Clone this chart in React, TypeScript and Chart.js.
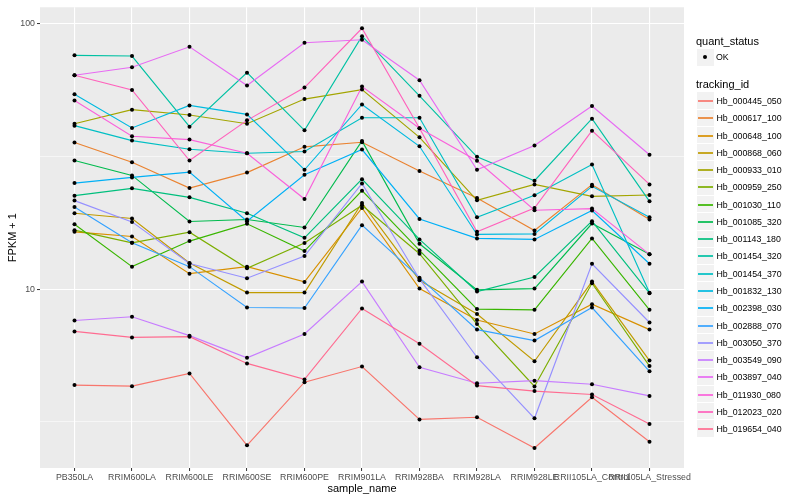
import React, { useEffect, useRef } from "react";
import { Chart, registerables } from "chart.js";

Chart.register(...registerables);

const sampleNames = [
  "PB350LA", "RRIM600LA", "RRIM600LE", "RRIM600SE", "RRIM600PE", "RRIM901LA",
  "RRIM928BA", "RRIM928LA", "RRIM928LE", "RRII105LA_Control", "RRII105LA_Stressed",
];

const trackingIds = [
  "Hb_000445_050", "Hb_000617_100", "Hb_000648_100", "Hb_000868_060", "Hb_000933_010",
  "Hb_000959_250", "Hb_001030_110", "Hb_001085_320", "Hb_001143_180", "Hb_001454_320",
  "Hb_001454_370", "Hb_001832_130", "Hb_002398_030", "Hb_002888_070", "Hb_003050_370",
  "Hb_003549_090", "Hb_003897_040", "Hb_011930_080", "Hb_012023_020", "Hb_019654_040",
];

const trackColors = [
  "#F8766D", "#EA8331", "#D89000", "#C09B00", "#A3A500", "#7CAE00", "#39B600", "#00BB4E",
  "#00BF7D", "#00C1A3", "#00BFC4", "#00BAE0", "#00B0F6", "#35A2FF", "#9590FF", "#C77CFF",
  "#E76BF3", "#FA62DB", "#FF62BC", "#FF6C91",
];

// FPKM + 1 per sample, one array per tracking_id
const hb000445_050 = [4.35, 4.31, 4.81, 2.58, 4.46, 5.11, 3.23, 3.29, 2.52, 3.91, 2.66];
const hb000617_100 = [35.7, 30.1, 24.05, 27.5, 34.4, 35.8, 27.9, 22.06, 16.65, 24.77, 18.31];
const hb000648_100 = [16.45, 15.8, 11.44, 12.16, 10.65, 20.23, 10.05, 7.65, 6.78, 8.78, 7.04];
const hb000868_060 = [19.33, 18.46, 12.55, 9.71, 9.71, 21.13, 10.81, 8.06, 5.35, 10.68, 5.38];
const hb000933_010 = [42.05, 47.5, 45.34, 42.05, 52.06, 56.55, 37.36, 21.63, 24.83, 22.39, 22.64];
const hb000959_250 = [16.69, 14.95, 16.4, 11.99, 14.92, 20.71, 13.6, 7.39, 4.3, 10.53, 5.13];
const hb001030_110 = [17.58, 12.16, 15.18, 17.63, 13.92, 23.51, 14.0, 8.41, 8.36, 15.54, 8.36];
const hb001085_320 = [30.55, 26.84, 17.99, 18.31, 17.08, 36.2, 14.83, 9.94, 10.05, 17.68, 13.53];
const hb001143_180 = [22.52, 23.99, 22.19, 19.33, 15.62, 25.99, 15.4, 9.8, 11.12, 18.04, 9.66];
const hb001454_320 = [76.1, 75.65, 40.98, 65.5, 39.7, 89.9, 53.56, 31.54, 25.63, 43.9, 21.44];
const hb001454_370 = [41.34, 36.31, 33.69, 32.54, 33.02, 44.29, 44.29, 18.67, 22.58, 29.51, 9.7];
const hb001832_130 = [54.35, 40.53, 49.26, 45.58, 28.19, 49.69, 34.56, 16.08, 16.16, 24.41, 18.67];
const hb002398_030 = [25.11, 26.38, 27.62, 18.04, 27.01, 33.6, 18.4, 15.54, 15.4, 19.79, 12.47];
const hb002888_070 = [20.4, 14.95, 12.16, 8.53, 8.49, 17.43, 11.05, 7.04, 6.4, 8.53, 4.9];
const hb003050_370 = [21.57, 17.93, 12.5, 11.0, 13.33, 25.04, 10.93, 5.54, 3.26, 12.47, 7.49];
const hb003549_090 = [7.62, 7.87, 6.68, 5.51, 6.78, 10.68, 5.08, 4.42, 4.52, 4.38, 3.96];
const hb003897_040 = [64.05, 68.64, 81.98, 58.54, 84.87, 87.1, 61.34, 28.19, 34.77, 49.0, 32.1];
const hb011930_080 = [51.43, 37.69, 36.63, 32.54, 21.87, 58.03, 40.39, 30.47, 19.84, 20.13, 13.53];
const hb012023_020 = [64.05, 56.39, 30.55, 43.28, 57.54, 96.3, 40.39, 16.45, 20.23, 39.59, 24.83];
const hb019654_040 = [6.93, 6.58, 6.62, 5.25, 4.57, 8.46, 6.23, 4.33, 4.13, 4.01, 3.1];

const seriesValues = [
  hb000445_050, hb000617_100, hb000648_100, hb000868_060, hb000933_010,
  hb000959_250, hb001030_110, hb001085_320, hb001143_180, hb001454_320,
  hb001454_370, hb001832_130, hb002398_030, hb002888_070, hb003050_370,
  hb003549_090, hb003897_040, hb011930_080, hb012023_020, hb019654_040,
];

const yMajorTicks = [10, 100];
const yMinorTicks = [3.1623, 31.623];
const quantStatus = ["OK"];

const FONT = "'Liberation Sans', Arial, Helvetica, sans-serif";

const panelBackground = {
  id: "panelBackground",
  beforeDraw(chart: any) {
    const { ctx, chartArea } = chart;
    ctx.save();
    ctx.fillStyle = "#EBEBEB";
    ctx.fillRect(chartArea.left, chartArea.top, chartArea.right - chartArea.left, chartArea.bottom - chartArea.top);
    ctx.restore();
  },
};

export default function App() {
  const canvasRef = useRef<HTMLCanvasElement | null>(null);

  useEffect(() => {
    if (!canvasRef.current) return;
    const lineDatasets = trackingIds.map((id, k) => ({
      label: id,
      data: seriesValues[k].map((v, i) => ({ x: i, y: v })),
      borderColor: trackColors[k],
      backgroundColor: trackColors[k],
      borderWidth: 1.15,
      pointRadius: 0,
      pointHoverRadius: 0,
      tension: 0,
      fill: false,
      order: trackingIds.length - k,
    }));
    const pointDataset = {
      label: quantStatus[0],
      data: seriesValues.flatMap((vals) => vals.map((v, i) => ({ x: i, y: v }))),
      showLine: false,
      pointRadius: 2,
      pointHoverRadius: 2,
      pointBackgroundColor: "#000000",
      pointBorderColor: "#000000",
      pointBorderWidth: 0,
      order: -1,
    };
    const isMajor = (v: number) => yMajorTicks.includes(v);
    const chart = new Chart(canvasRef.current, {
      type: "line",
      data: { datasets: [...lineDatasets, pointDataset] as any },
      plugins: [panelBackground],
      options: {
        animation: false,
        responsive: false,
        events: [],
        layout: { padding: { top: 5, right: 116, left: 0, bottom: 0 } },
        plugins: { legend: { display: false }, tooltip: { enabled: false } },
        scales: {
          x: {
            type: "linear",
            min: -0.6,
            max: 10.6,
            afterBuildTicks: (s: any) => {
              s.ticks = sampleNames.map((_, i) => ({ value: i }));
            },
            afterFit: (s: any) => {
              s.height = 32;
            },
            ticks: {
              autoSkip: false,
              maxRotation: 0,
              minRotation: 0,
              padding: 1,
              color: "#4D4D4D",
              font: { family: FONT, size: 8.8 },
              callback: (v: any) => sampleNames[Math.round(Number(v))] ?? "",
            },
            grid: { color: "#FFFFFF", lineWidth: 1.1, tickColor: "#333333", tickLength: 3, tickWidth: 1 },
            border: { display: false },
            title: {
              display: true,
              text: "sample_name",
              color: "#000000",
              font: { family: FONT, size: 11 },
              padding: { top: 0, bottom: 4 },
            },
          },
          y: {
            type: "logarithmic",
            min: 2.118,
            max: 115.5,
            afterBuildTicks: (s: any) => {
              s.ticks = [...yMinorTicks, ...yMajorTicks].sort((a, b) => a - b).map((v) => ({ value: v }));
            },
            afterFit: (s: any) => {
              s.width = 40;
            },
            ticks: {
              padding: 2,
              color: "#4D4D4D",
              font: { family: FONT, size: 8.8 },
              callback: (v: any) => (isMajor(Number(v)) ? String(v) : ""),
            },
            grid: {
              color: "#FFFFFF",
              lineWidth: (c: any) => (c.tick && isMajor(c.tick.value) ? 1.1 : 0.55),
              tickColor: (c: any) => (c.tick && isMajor(c.tick.value) ? "#333333" : "rgba(0,0,0,0)"),
              tickLength: 3,
              tickWidth: 1,
            },
            border: { display: false },
            title: {
              display: true,
              text: "FPKM + 1",
              color: "#000000",
              font: { family: FONT, size: 11 },
              padding: { top: 6, bottom: 0 },
            },
          },
        },
      } as any,
    });
    return () => chart.destroy();
  }, []);

  const legendLeft = 697;
  const step = 17.27;
  const firstY = 101;

  return (
    <div style={{ position: "absolute", left: 0, top: 0, width: 800, height: 500, background: "#FFFFFF", fontFamily: FONT }}>
      <canvas ref={canvasRef} width={800} height={500} style={{ display: "block", width: 800, height: 500 }} />
      <div style={{ position: "absolute", left: 696, top: 34.5, fontSize: 11, lineHeight: "13px", color: "#000", whiteSpace: "nowrap" }}>
        quant_status
      </div>
      <div style={{ position: "absolute", left: legendLeft, top: 49, width: 17, height: 17, background: "#F2F2F2" }}>
        <div style={{ position: "absolute", left: 6, top: 6, width: 4, height: 4, borderRadius: 2, background: "#000" }} />
      </div>
      <div style={{ position: "absolute", left: 716, top: 52, fontSize: 8.8, lineHeight: "10px", color: "#000", whiteSpace: "nowrap" }}>
        {quantStatus[0]}
      </div>
      <div style={{ position: "absolute", left: 696, top: 77.8, fontSize: 11, lineHeight: "13px", color: "#000", whiteSpace: "nowrap" }}>
        tracking_id
      </div>
      {trackingIds.map((id, k) => {
        const cy = firstY + k * step;
        const boxTop = Math.round(cy - step / 2);
        const boxBottom = Math.round(cy + step / 2);
        const lineTop = Math.round(cy) - 1;
        return (
          <React.Fragment key={id}>
            <div
              style={{
                position: "absolute",
                left: legendLeft,
                top: boxTop,
                width: 17,
                height: boxBottom - boxTop - 1,
                background: "#F2F2F2",
              }}
            />
            <div style={{ position: "absolute", left: legendLeft + 1, top: lineTop, width: 15, height: 2, background: trackColors[k], opacity: 0.85 }} />
            <div style={{ position: "absolute", left: 716.5, top: cy - 5, fontSize: 8.8, lineHeight: "10px", color: "#000", whiteSpace: "nowrap" }}>
              {id}
            </div>
          </React.Fragment>
        );
      })}
    </div>
  );
}
